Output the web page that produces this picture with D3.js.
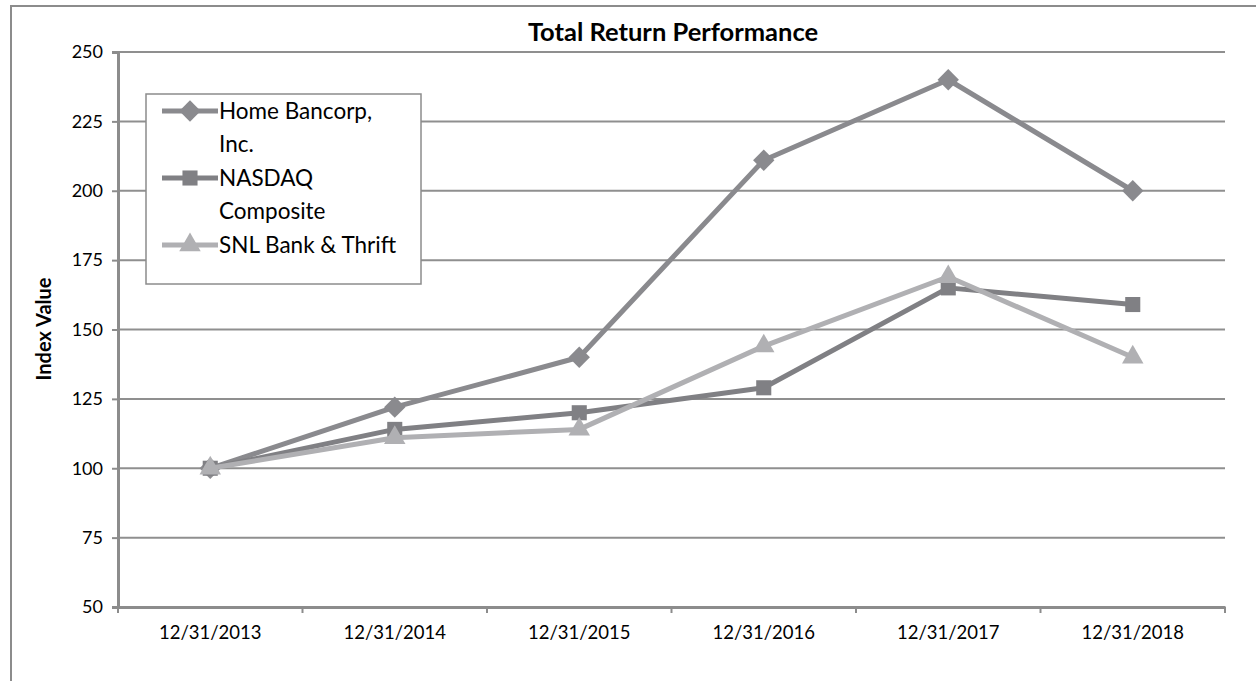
<!DOCTYPE html>
<html>
<head>
<meta charset="utf-8">
<script src="https://cdn.jsdelivr.net/npm/d3@7"></script>
<style>
  body { margin: 0; background: #fff; }
  svg { display: block; }
  svg text { font-family: Lato, "Open Sans", sans-serif; }
</style>
</head>
<body>
<svg id="chart" width="1256" height="681"></svg>
<script>
const dates = ['12/31/2013', '12/31/2014', '12/31/2015', '12/31/2016', '12/31/2017', '12/31/2018']
const homeBancorp = [100, 122, 140, 211, 240, 200]
const nasdaq = [100, 114, 120, 129, 165, 159]
const snlBank = [100, 111, 114, 144, 169, 140]
const yTicks = [50, 75, 100, 125, 150, 175, 200, 225, 250]

const series = [
    { name: ['Home Bancorp,', 'Inc.'], values: homeBancorp, color: '#8a8a8e', symbol: d3.symbolDiamond2, size: 290 },
    { name: ['NASDAQ', 'Composite'], values: nasdaq, color: '#808084', symbol: d3.symbolSquare2, size: 290 },
    { name: ['SNL Bank & Thrift'], values: snlBank, color: '#b0b0b3', symbol: d3.symbolTriangle2, size: 330 }
]

const svg = d3.select('#chart')
const margin = { top: 52, right: 31, bottom: 74, left: 118 }
const width = +svg.attr('width') - margin.left - margin.right
const height = +svg.attr('height') - margin.top - margin.bottom

// outer frame
svg.append('path')
    .attr('d', 'M11,681 V6 H1256')
    .attr('fill', 'none')
    .attr('stroke', '#8c8c8c')
    .attr('stroke-width', 2)

const g = svg.append('g')
    .attr('transform', `translate(${margin.left},${margin.top})`)

const x = d3.scaleBand().domain(dates).range([0, width])
const y = d3.scaleLinear().domain([50, 250]).range([height, 0])

// gridlines
g.append('g')
    .selectAll('line')
    .data(yTicks.slice(1))
    .join('line')
    .attr('x1', 0)
    .attr('x2', width)
    .attr('y1', d => y(d))
    .attr('y2', d => y(d))
    .attr('stroke', '#8f8f8f')
    .attr('stroke-width', 2)

// left axis (y)
const yAxis = g.append('g')
    .call(d3.axisLeft(y).tickValues(yTicks).tickSize(6).tickPadding(9))
yAxis.attr('font-family', null).attr('font-size', 18)
yAxis.select('.domain').attr('stroke', '#8c8c8c').attr('stroke-width', 3)
yAxis.selectAll('.tick line').attr('stroke', '#8c8c8c').attr('stroke-width', 2)
yAxis.selectAll('text').attr('fill', '#000')

// bottom axis (x)
const xAxis = g.append('g')
    .attr('transform', `translate(0,${height})`)
    .call(d3.axisBottom(x).tickSize(0).tickPadding(19))
xAxis.attr('font-family', null).attr('font-size', 18.5)
xAxis.select('.domain').attr('stroke', '#8c8c8c').attr('stroke-width', 3)
xAxis.selectAll('text').attr('fill', '#000')
xAxis.append('g')
    .selectAll('line')
    .data(d3.range(dates.length + 1))
    .join('line')
    .attr('x1', i => i * x.step())
    .attr('x2', i => i * x.step())
    .attr('y1', 0)
    .attr('y2', 6)
    .attr('stroke', '#8c8c8c')
    .attr('stroke-width', 2)

const cx = d => x(d) + x.bandwidth() / 2

const line = d3.line()
    .x((v, i) => cx(dates[i]))
    .y(v => y(v))

series.forEach(s => {
    g.append('path')
        .datum(s.values)
        .attr('fill', 'none')
        .attr('stroke', s.color)
        .attr('stroke-width', 5)
        .attr('stroke-linejoin', 'round')
        .attr('d', line)

    g.append('g')
        .selectAll('path')
        .data(s.values)
        .join('path')
        .attr('transform', (v, i) => `translate(${cx(dates[i])},${y(v)})`)
        .attr('d', d3.symbol(s.symbol, s.size))
        .attr('fill', s.color)
})

// title
svg.append('text')
    .attr('x', 673)
    .attr('y', 41)
    .attr('text-anchor', 'middle')
    .attr('font-size', 25.5)
    .attr('font-weight', 'bold')
    .text('Total Return Performance')

// y axis title
svg.append('text')
    .attr('transform', 'translate(51,329) rotate(-90)')
    .attr('text-anchor', 'middle')
    .attr('font-size', 20)
    .attr('font-weight', 'bold')
    .text('Index Value')

// legend
const legend = svg.append('g').attr('transform', 'translate(146,94)')
legend.append('rect')
    .attr('width', 275)
    .attr('height', 190)
    .attr('fill', '#fff')
    .attr('stroke', '#8c8c8c')
    .attr('stroke-width', 1.5)

let row = 0
series.forEach(s => {
    const ly = 17 + row * 33.5
    legend.append('line')
        .attr('x1', 16).attr('x2', 72)
        .attr('y1', ly).attr('y2', ly)
        .attr('stroke', s.color)
        .attr('stroke-width', 5)
    legend.append('path')
        .attr('transform', `translate(44,${ly})`)
        .attr('d', d3.symbol(s.symbol, s.size)())
        .attr('fill', s.color)
    s.name.forEach((t, k) => {
        legend.append('text')
            .attr('x', 73)
            .attr('y', ly + k * 33.5)
            .attr('dy', '0.35em')
            .attr('font-size', 22.5)
            .text(t)
    })
    row += s.name.length
})
</script>
</body>
</html>
